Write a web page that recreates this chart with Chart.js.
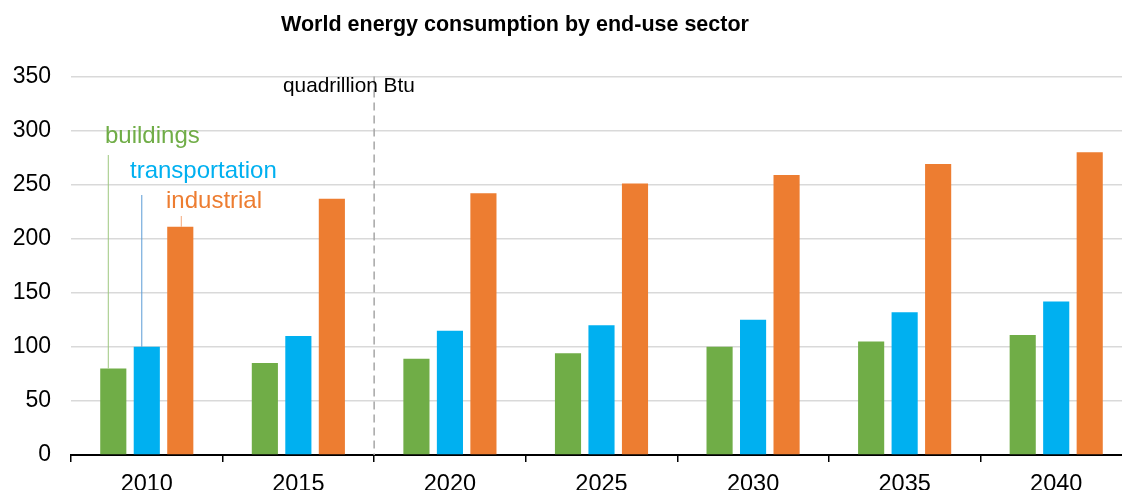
<!DOCTYPE html>
<html>
<head>
<meta charset="utf-8">
<script src="https://cdn.jsdelivr.net/npm/chart.js@4"></script>
<style>
  html, body { margin: 0; padding: 0; background: #fff; overflow: hidden; }
  #wrap { width: 1134px; height: 490px; }
</style>
</head>
<body>
<div id="wrap"><canvas id="chart" width="1134" height="490"></canvas></div>
<script>
// values (quadrillion Btu)
const years = ["2010", "2015", "2020", "2025", "2030", "2035", "2040"];
const buildings = [80, 85, 89, 94, 100, 105, 111];
const transportation = [100, 110, 115, 120, 125, 132, 142];
const industrial = [211, 237, 242, 251, 259, 269, 280];
const yTicks = [0, 50, 100, 150, 200, 250, 300, 350];

const FONT = "'Liberation Sans', Arial, sans-serif";

// title, unit label, history/projection divider and the in-chart legend
const overlay = {
  id: "overlay",
  beforeDatasetsDraw(chart) {
    const ctx = chart.ctx;
    const x = chart.scales.x;
    const area = chart.chartArea;
    const divX = (x.getPixelForValue(1) + x.getPixelForValue(2)) / 2;
    ctx.save();
    ctx.strokeStyle = "#a6a6a6";
    ctx.lineWidth = 1.5;
    ctx.setLineDash([8, 5]);
    ctx.beginPath();
    ctx.moveTo(divX, area.top);
    ctx.lineTo(divX, area.bottom);
    ctx.stroke();
    ctx.restore();
  },
  afterDatasetsDraw(chart) {
    const ctx = chart.ctx;
    ctx.save();

    ctx.fillStyle = "#000";
    ctx.textAlign = "center";
    ctx.textBaseline = "alphabetic";
    ctx.font = "bold 21.5px " + FONT;
    ctx.fillText("World energy consumption by end-use sector", 515, 31);

    ctx.textAlign = "left";
    ctx.font = "20.8px " + FONT;
    ctx.fillText("quadrillion Btu", 283, 92);

    // leader lines from the first group of bars up to the labels
    const labels = [
      { text: "buildings", color: "#70ad47", line: "#9dc77f", x: 105, y: 143, top: 155, dx: -5 },
      { text: "transportation", color: "#00b0f0", line: "#5b9bd5", x: 130, y: 178, top: 195, dx: -5 },
      { text: "industrial", color: "#ed7d31", line: "#f4a77a", x: 166, y: 208, top: 216, dx: 1 }
    ];
    labels.forEach((l, i) => {
      const bar = chart.getDatasetMeta(i).data[0];
      ctx.strokeStyle = l.line;
      ctx.lineWidth = 1;
      ctx.beginPath();
      ctx.moveTo(bar.x + l.dx, l.top);
      ctx.lineTo(bar.x + l.dx, bar.y);
      ctx.stroke();
      ctx.fillStyle = l.color;
      ctx.font = "24px " + FONT;
      ctx.fillText(l.text, l.x, l.y);
    });
    ctx.restore();
  }
};

const ctx = document.getElementById("chart");

const myChart = new Chart(ctx, {
  type: "bar",
  data: {
    labels: years,
    datasets: [
      { label: "buildings", data: buildings, backgroundColor: "#70ad47" },
      { label: "transportation", data: transportation, backgroundColor: "#00b0f0" },
      { label: "industrial", data: industrial, backgroundColor: "#ed7d31" }
    ]
  },
  options: {
    responsive: false,
    animation: false,
    categoryPercentage: 0.663,
    barPercentage: 0.78,
    layout: { padding: { top: 76.5, right: 2, bottom: 0, left: 0 } },
    plugins: {
      legend: { display: false },
      title: { display: false },
      tooltip: { enabled: false }
    },
    scales: {
      x: {
        afterFit: (s) => { s.height = 35; },
        grid: {
          display: true,
          offset: true,
          drawOnChartArea: false,
          drawTicks: true,
          tickLength: 7,
          color: "#000",
          lineWidth: 1.5
        },
        border: { display: true, color: "#000", width: 2 },
        ticks: {
          color: "#000",
          padding: 8,
          maxRotation: 0,
          font: { family: FONT, size: 23.5 }
        }
      },
      y: {
        min: 0,
        max: 350,
        afterFit: (s) => { s.width = 71; },
        afterBuildTicks: (s) => { s.ticks = yTicks.map((v) => ({ value: v })); },
        grid: { color: "#d9d9d9", lineWidth: 1.5, drawTicks: false },
        border: { display: false },
        ticks: {
          color: "#000",
          padding: 20,
          font: { family: FONT, size: 23 }
        }
      }
    }
  },
  plugins: [overlay]
});
</script>
</body>
</html>
